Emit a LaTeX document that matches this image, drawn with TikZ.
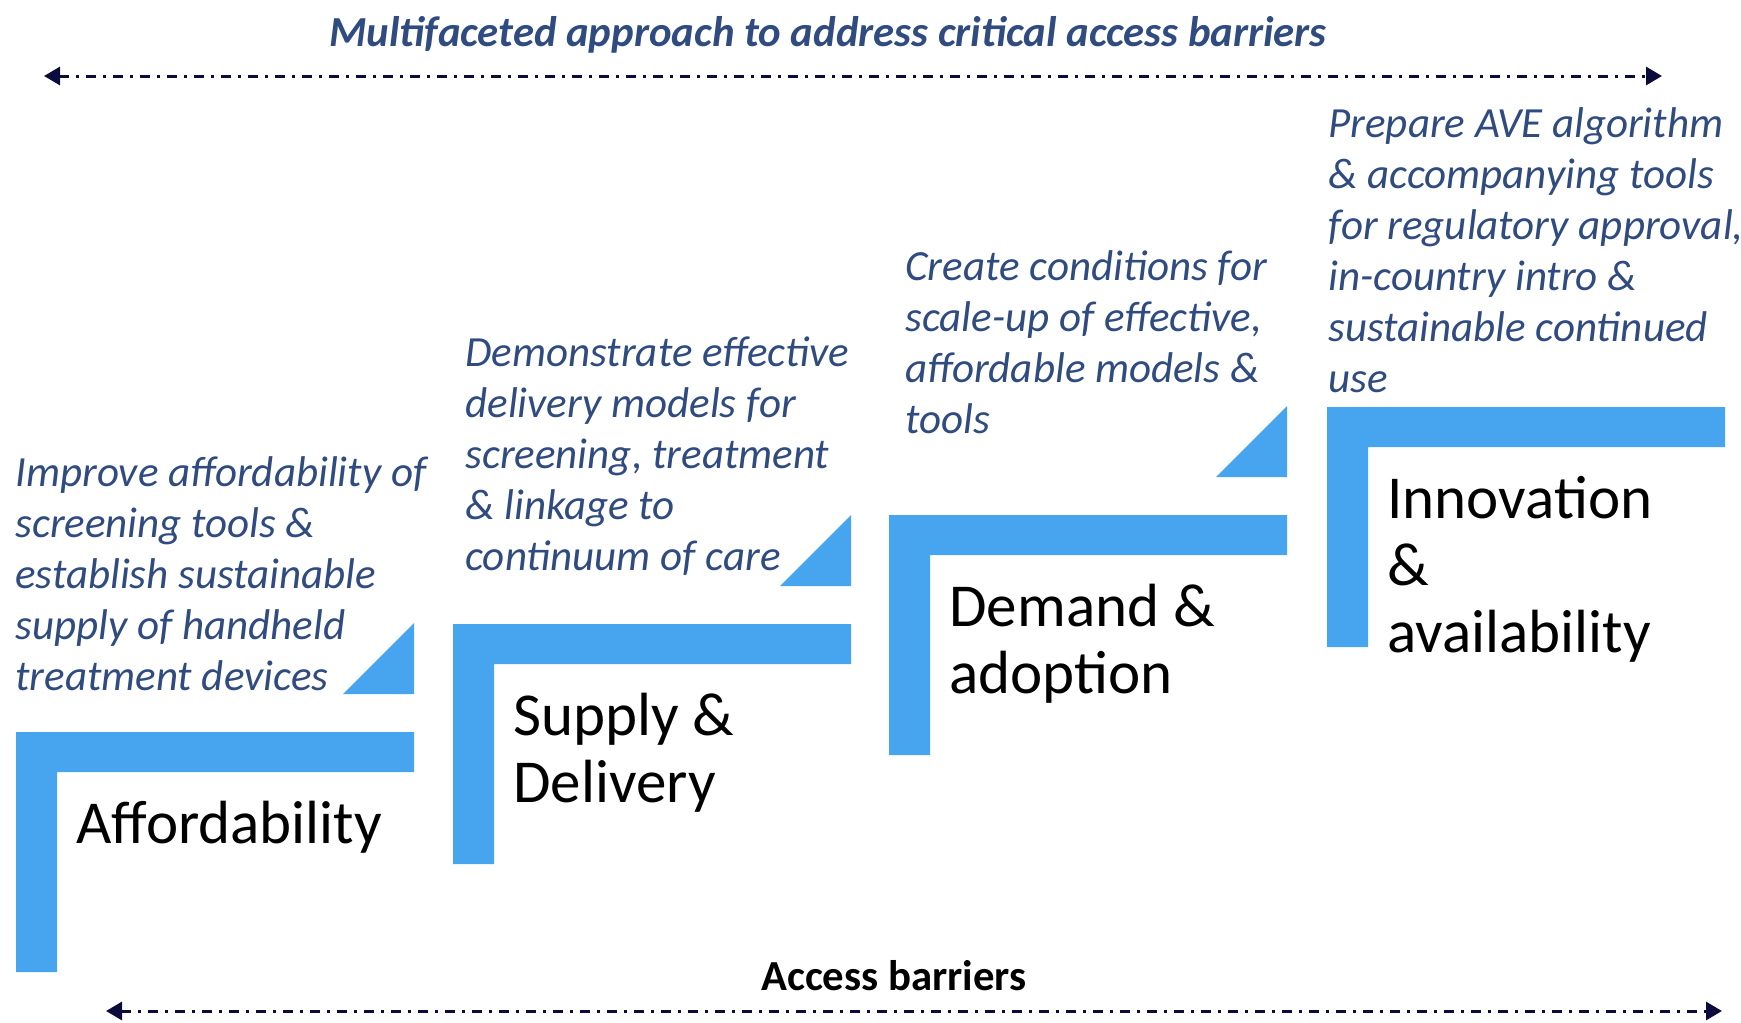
\documentclass[tikz,border=0pt]{standalone}
\usepackage{fontspec}
\setmainfont{Carlito}
\usetikzlibrary{arrows.meta,calc}
\definecolor{stairblue}{RGB}{71,165,240}
\definecolor{goalblue}{RGB}{47,75,128}
\definecolor{arrownavy}{RGB}{12,12,60}
\tikzset{
    stair/.style = {
    	fill=stairblue
    },
    wedge/.style = {
    	fill=stairblue
    },
    barrier/.style = {
    	arrownavy,
    	line width=1.5pt,
    	dash pattern=on 5pt off 3.5pt on 1.5pt off 3.5pt,
    	{Triangle[length=8pt,width=9pt]}-{Triangle[length=8pt,width=9pt]}
    },
    steplabel/.style = {
    	anchor=base west,
    	inner sep=0pt,
    	align=left,
    	font=\fontsize{30.5}{33.5}\selectfont
    },
    goal/.style = {
    	anchor=base west,
    	inner sep=0pt,
    	align=left,
    	text=goalblue,
    	font=\fontsize{21.5}{25.5}\selectfont\itshape
    },
    heading/.style = {
    	anchor=base,
    	inner sep=0pt,
    	text=goalblue,
    	font=\fontsize{21.4}{26}\selectfont\bfseries\itshape
    },
    axislabel/.style = {
    	anchor=base,
    	inner sep=0pt,
    	font=\fontsize{21.4}{25}\selectfont\bfseries
    }
}

\begin{document}
\begin{tikzpicture}[x=0.5pt,y=-0.5pt]
	\useasboundingbox (0,0) rectangle (1741,1023);

	% Corners of the stairs
	\coordinate (S1) at (16,732);
	\coordinate (S2) at (453,624);
	\coordinate (S3) at (889,515);
	\coordinate (S4) at (1327,407);

	% Ends of the two arrows
	\coordinate (topL) at (44,76);
	\coordinate (topR) at (1662,76);
	\coordinate (botL) at (106,1011);
	\coordinate (botR) at (1722,1011);

	% Heading and arrow
	\node[heading] (title) at (828,46) {Multifaceted approach to address critical access barriers};
	\draw[barrier] (topL) -- (topR);

	% Draw all stairs
	\fill[stair] (S1) -- ++(398,0) -- ++(0,40) -- ++(-357,0) -- ++(0,200) -- ++(-41,0) -- cycle;
	\fill[stair] (S2) -- ++(398,0) -- ++(0,40) -- ++(-357,0) -- ++(0,200) -- ++(-41,0) -- cycle;
	\fill[stair] (S3) -- ++(398,0) -- ++(0,40) -- ++(-357,0) -- ++(0,200) -- ++(-41,0) -- cycle;
	\fill[stair] (S4) -- ++(398,0) -- ++(0,40) -- ++(-357,0) -- ++(0,200) -- ++(-41,0) -- cycle;

	% Small triangles above the stairs
	\fill[wedge] ($(S1)+(398,-38)$) -- ++(0,-71) -- ++(-71,71) -- cycle;
	\fill[wedge] ($(S2)+(398,-38)$) -- ++(0,-71) -- ++(-71,71) -- cycle;
	\fill[wedge] ($(S3)+(398,-38)$) -- ++(0,-71) -- ++(-71,71) -- cycle;

	% Names of the barriers (placed at their last line)
	\node[steplabel] (afford) at ($(S1)+(60,111)$) {Affordability};
	\node[steplabel] (supply) at ($(S2)+(60,178)$) {Supply \&\\Delivery};
	\node[steplabel] (demand) at ($(S3)+(60,178)$) {Demand \&\\adoption};
	\node[steplabel] (innov) at ($(S4)+(60,245)$) {Innovation\\\&\\availability};

	% Goals (placed at their last line)
	\node[goal] (affordGoal) at (15,690) {Improve affordability of\\screening tools \&\\establish sustainable\\supply of handheld\\treatment devices};
	\node[goal] (supplyGoal) at (465,570) {Demonstrate effective\\delivery models for\\screening, treatment\\\& linkage to\\continuum of care};
	\node[goal] (demandGoal) at (905,433) {Create conditions for\\scale-up of effective,\\affordable models \&\\tools};
	\node[goal] (innovGoal) at (1328,392) {Prepare AVE algorithm\\\& accompanying tools\\for regulatory approval,\\in-country intro \&\\sustainable continued\\use};

	% Bottom arrow
	\node[axislabel] (access) at (894,990) {Access barriers};
	\draw[barrier] (botL) -- (botR);

\end{tikzpicture}
\end{document}
